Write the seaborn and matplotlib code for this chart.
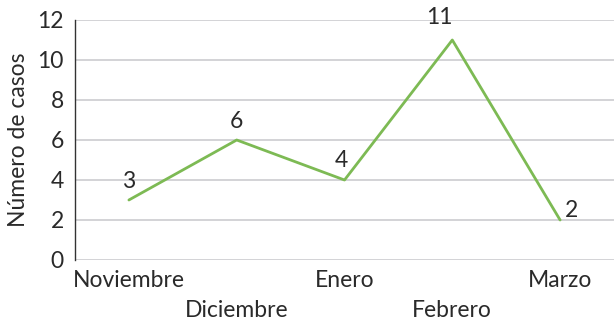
import matplotlib
matplotlib.use("Agg")
import matplotlib.pyplot as plt
import seaborn as sns
import pandas as pd

# Monthly case counts
months = ["Noviembre", "Diciembre", "Enero", "Febrero", "Marzo"]
cases = [3, 6, 4, 11, 2]
# offsets (points) for each value label relative to its point
label_offsets = [(0, 13.5), (0, 13), (-2, 14), (-9, 16), (8, 7)]

df = pd.DataFrame({"mes": months, "casos": cases, "pos": range(len(months))})

sns.set_style("white")
plt.rcParams["font.family"] = ["Lato", "DejaVu Sans"]

text_color = "#2a2a2a"
line_color = "#7DBA54"
fs = 16.5

fig = plt.figure(figsize=(6.14, 3.25), dpi=100)
ax = fig.add_axes([75 / 614, 65 / 325, 539 / 614, 240 / 325])

sns.lineplot(data=df, x="pos", y="casos", color=line_color, linewidth=2.0, ax=ax)

for x, y, (dx, dy) in zip(df["pos"], df["casos"], label_offsets):
    ax.annotate(str(y), (x, y), xytext=(dx, dy), textcoords="offset points",
                ha="center", va="center", fontsize=fs, color=text_color)

ax.set_xlim(-0.5, len(months) - 0.5)
ax.set_ylim(0, 12)
ax.set_yticks(range(0, 13, 2))
ax.set_xticks(range(len(months)))
ax.set_xticklabels(months)
ax.yaxis.grid(True, color="#C8C8CC", linewidth=1.1)
ax.set_axisbelow(True)

for side in ["top", "right", "bottom"]:
    ax.spines[side].set_visible(False)
ax.spines["left"].set_color("#333333")
ax.spines["left"].set_linewidth(1.0)

ax.tick_params(axis="both", length=0, labelsize=fs, colors=text_color)
ax.tick_params(axis="y", pad=8)
for i, tick in enumerate(ax.xaxis.get_major_ticks()):
    tick.set_pad(7 if i % 2 == 0 else 29)

ax.set_xlabel("")
ax.set_ylabel("Número de casos", fontsize=fs, color=text_color, labelpad=6)

fig.savefig("out.png", dpi=100)
